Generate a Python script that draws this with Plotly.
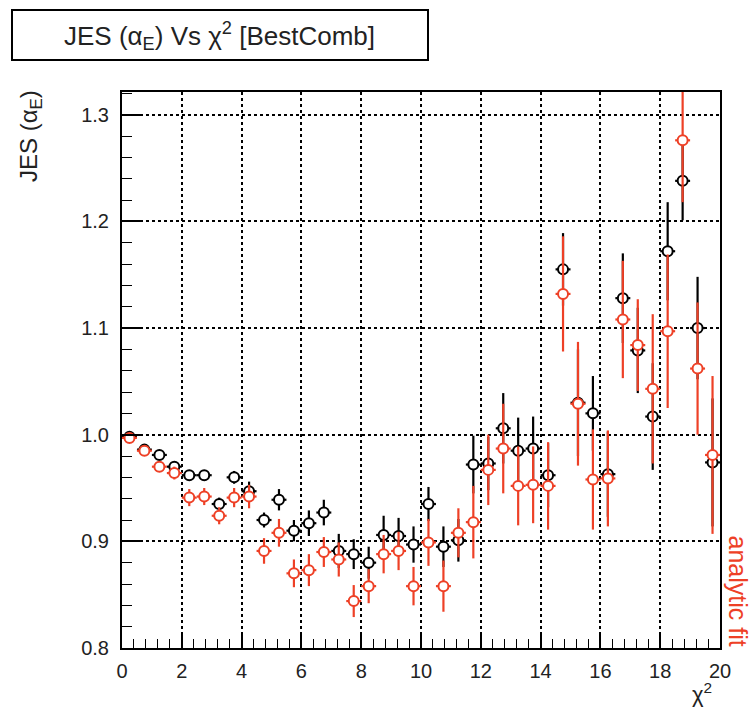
import plotly.graph_objects as go

# ---- data ----
chi2_centers = [0.25, 0.75, 1.25, 1.75, 2.25, 2.75, 3.25, 3.75, 4.25, 4.75,
                5.25, 5.75, 6.25, 6.75, 7.25, 7.75, 8.25, 8.75, 9.25, 9.75,
                10.25, 10.75, 11.25, 11.75, 12.25, 12.75, 13.25, 13.75, 14.25, 14.75,
                15.25, 15.75, 16.25, 16.75, 17.25, 17.75, 18.25, 18.75, 19.25, 19.75]
bin_half_width = 0.25

best_comb_jes = [0.998, 0.986, 0.981, 0.970, 0.962, 0.962, 0.935, 0.960, 0.947, 0.920,
                 0.939, 0.910, 0.917, 0.927, 0.891, 0.888, 0.880, 0.906, 0.905, 0.897,
                 0.935, 0.895, 0.901, 0.972, 0.973, 1.006, 0.985, 0.987, 0.962, 1.155,
                 1.030, 1.020, 0.963, 1.128, 1.079, 1.017, 1.172, 1.238, 1.100, 0.974]
best_comb_err = [0.002, 0.003, 0.003, 0.004, 0.004, 0.004, 0.006, 0.006, 0.009, 0.007,
                 0.010, 0.010, 0.012, 0.012, 0.016, 0.014, 0.015, 0.018, 0.017, 0.017,
                 0.016, 0.019, 0.020, 0.027, 0.025, 0.033, 0.031, 0.030, 0.030, 0.034,
                 0.050, 0.035, 0.040, 0.042, 0.040, 0.050, 0.046, 0.037, 0.048, 0.060]

analytic_jes = [0.997, 0.985, 0.970, 0.964, 0.941, 0.942, 0.924, 0.941, 0.942, 0.891,
                0.908, 0.870, 0.873, 0.890, 0.883, 0.844, 0.858, 0.888, 0.891, 0.858,
                0.899, 0.858, 0.908, 0.918, 0.967, 0.987, 0.952, 0.953, 0.952, 1.132,
                1.029, 0.958, 0.959, 1.108, 1.084, 1.043, 1.097, 1.276, 1.062, 0.981]
analytic_err = [0.002, 0.003, 0.005, 0.006, 0.008, 0.008, 0.008, 0.009, 0.011, 0.012,
                0.013, 0.013, 0.015, 0.014, 0.016, 0.015, 0.016, 0.018, 0.018, 0.018,
                0.022, 0.024, 0.023, 0.034, 0.033, 0.042, 0.037, 0.036, 0.041, 0.054,
                0.058, 0.047, 0.045, 0.055, 0.043, 0.070, 0.072, 0.058, 0.062, 0.074]

x_range = [0, 20]
y_range = [0.8, 1.3213]

# ---- style ----
W, H = 752, 708
ML, MR, MT, MB = 122, 32, 92, 60
PW, PH = W - ML - MR, H - MT - MB
FONT = "Liberation Sans, Arial, Helvetica, sans-serif"
BLACK = "#000000"
RED = "#EE4026"


def px(xp):
    return (xp - ML) / PW


def py(yp):
    return (H - MB - yp) / PH


fig = go.Figure()

for yv, ev, col in [(best_comb_jes, best_comb_err, BLACK), (analytic_jes, analytic_err, RED)]:
    fig.add_trace(go.Scatter(
        x=chi2_centers, y=yv, mode="markers",
        marker=dict(symbol="circle", size=10, color="white", line=dict(color=col, width=2)),
        error_y=dict(type="data", array=ev, visible=True, color=col, thickness=2.2, width=0),
        error_x=dict(type="constant", value=bin_half_width, visible=True, color=col, thickness=2.2, width=0),
        showlegend=False, cliponaxis=True,
    ))

axis_common = dict(
    showline=True, linecolor=BLACK, linewidth=2, mirror=True,
    showgrid=True, gridcolor=BLACK, griddash="dot", gridwidth=1.6,
    zeroline=False, ticks="inside", tickcolor=BLACK, tickwidth=1.5,
    tickfont=dict(family=FONT, size=20, color="#222222"),
)

fig.update_xaxes(range=x_range, tick0=0, dtick=2, ticklen=14,
                 minor=dict(dtick=0.4, tick0=0, ticklen=9, ticks="inside", tickcolor=BLACK, tickwidth=1.2, showgrid=False),
                 ticklabelstandoff=4, **axis_common)
fig.update_yaxes(range=y_range, tick0=0.8, dtick=0.1, tickformat=".1f", ticklen=18,
                 minor=dict(dtick=0.02, tick0=0.8, ticklen=10, ticks="inside", tickcolor=BLACK, tickwidth=1.2, showgrid=False),
                 ticklabelstandoff=7, **axis_common)

fig.update_layout(
    width=W, height=H,
    margin=dict(l=ML, r=MR, t=MT, b=MB, pad=0),
    paper_bgcolor="white", plot_bgcolor="white",
    font=dict(family=FONT, color="#222222"),
    showlegend=False,
    shapes=[dict(type="rect", xref="paper", yref="paper",
                 x0=px(12), x1=px(428), y0=py(60), y1=py(10),
                 line=dict(color=BLACK, width=2), fillcolor="white", layer="above")],
    annotations=[
        dict(text="JES (α<sub>E</sub>) Vs χ<sup>2</sup> [BestComb]", xref="paper", yref="paper",
             x=px(219), y=py(36), xanchor="center", yanchor="middle", showarrow=False,
             font=dict(family=FONT, size=26, color="#222222")),
        dict(text="JES (α<sub>E</sub>)", xref="paper", yref="paper", textangle=-90,
             x=px(30), y=py(88), xanchor="center", yanchor="top", showarrow=False,
             font=dict(family=FONT, size=24, color="#222222")),
        dict(text="χ<sup>2</sup>", xref="paper", yref="paper",
             x=px(714), y=py(693), xanchor="right", yanchor="middle", showarrow=False,
             font=dict(family=FONT, size=22, color="#222222")),
        dict(text="analytic fit", xref="paper", yref="paper", textangle=90,
             x=px(738), y=py(648), xanchor="center", yanchor="bottom", showarrow=False,
             font=dict(family=FONT, size=25, color=RED)),
    ],
)

fig.write_html("out.html")
